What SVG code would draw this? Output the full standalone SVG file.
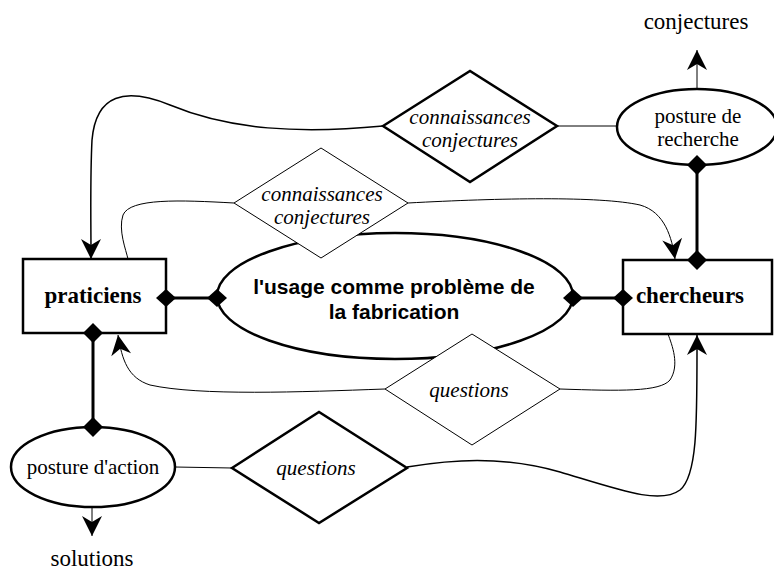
<svg xmlns="http://www.w3.org/2000/svg" xmlns:xlink="http://www.w3.org/1999/xlink" width="774" height="572" viewBox="0 0 774 572">
<style>
.thick{fill:#fff;stroke:#000;stroke-width:2.5}
.thin{fill:#fff;stroke:#000;stroke-width:1}
.serif{font-family:"Liberation Serif","Times New Roman",serif;fill:#000}
.it{font-style:italic;font-size:21px}
.box{font-weight:bold;font-size:23px}
.pl{font-size:21px}
.out{font-size:23px}
.sans{font-family:"Liberation Sans",Arial,sans-serif;font-weight:bold;font-size:21px;fill:#000}
.c1{fill:none;stroke:#000;stroke-width:1}
.c15{fill:none;stroke:#000;stroke-width:1.5}
.c3{fill:none;stroke:#000;stroke-width:3}
.dia{fill:#000;stroke:none}
</style>
<defs>
<marker id="arr" viewBox="-22 -11 24 22" markerWidth="24" markerHeight="22" refX="0" refY="0" orient="auto" markerUnits="userSpaceOnUse">
<path d="M0,0 L-20,-10 L-14,0 L-20,10 Z" fill="#000"/>
</marker>
<path id="dh" d="M-10,0 L0,-9 L10,0 L0,9 Z"/>
<path id="dv" d="M-10,0 L0,-10 L10,0 L0,10 Z"/>
</defs>

<g id="node-usage">
<ellipse class="thick" cx="395" cy="296" rx="178" ry="63"/>
<text class="sans" text-anchor="middle"><tspan x="394" y="294">l'usage comme problème de</tspan><tspan x="394" y="319">la fabrication</tspan></text>
</g>

<g id="node-praticiens">
<rect class="thick" x="23" y="259" width="143" height="74"/>
<text class="serif box" x="93" y="303" text-anchor="middle">praticiens</text>
</g>

<g id="node-chercheurs">
<rect class="thick" x="623" y="260" width="149" height="74"/>
<text class="serif box" x="690" y="303" text-anchor="middle">chercheurs</text>
</g>

<g id="node-posture-recherche">
<ellipse class="thick" cx="697" cy="127" rx="80" ry="38"/>
<text class="serif pl" text-anchor="middle"><tspan x="698" y="123">posture de</tspan><tspan x="698" y="146">recherche</tspan></text>
</g>

<g id="node-posture-action">
<ellipse class="thick" cx="93" cy="467" rx="82" ry="40"/>
<text class="serif pl" x="93" y="474" text-anchor="middle">posture d'action</text>
</g>

<g id="node-conn-top">
<polygon class="thick" points="383,126 470,71 557,126 470,182"/>
<text class="serif it" text-anchor="middle"><tspan x="470" y="124">connaissances</tspan><tspan x="470" y="147">conjectures</tspan></text>
</g>

<g id="node-conn-mid">
<polygon class="thin" points="234,203 321,148 408,203 321,258"/>
<text class="serif it" text-anchor="middle"><tspan x="322" y="201">connaissances</tspan><tspan x="322" y="224">conjectures</tspan></text>
</g>

<g id="node-questions-mid">
<polygon class="thin" points="385,389 472,334 560,389 472,445"/>
<text class="serif it" x="469" y="397" text-anchor="middle">questions</text>
</g>

<g id="node-questions-bottom">
<polygon class="thick" points="232,468 319,412 407,468 319,523"/>
<text class="serif it" x="316" y="475" text-anchor="middle">questions</text>
</g>

<g id="node-conjectures">
<text class="serif out" x="696" y="29" text-anchor="middle">conjectures</text>
</g>

<g id="node-solutions">
<text class="serif out" x="92" y="566" text-anchor="middle">solutions</text>
</g>

<g id="connectors">
<!-- composition links -->
<line class="c3" x1="166" y1="298" x2="217" y2="298"/>
<line class="c3" x1="573" y1="298" x2="623" y2="298"/>
<line class="c3" x1="93" y1="333" x2="93" y2="427"/>
<line class="c3" x1="697" y1="165" x2="697" y2="260"/>
<use href="#dh" class="dia" x="166" y="298"/>
<use href="#dh" class="dia" x="217" y="298"/>
<use href="#dh" class="dia" x="573" y="298"/>
<use href="#dh" class="dia" x="623" y="298"/>
<use href="#dv" class="dia" x="93" y="333"/>
<use href="#dv" class="dia" x="93" y="427"/>
<use href="#dv" class="dia" x="697" y="165"/>
<use href="#dv" class="dia" x="697" y="260"/>
<!-- outputs -->
<line class="c1" x1="697" y1="89" x2="697" y2="50" marker-end="url(#arr)"/>
<line class="c1" x1="92" y1="507" x2="92" y2="536" marker-end="url(#arr)"/>
<!-- plain links -->
<line class="c1" x1="557" y1="126" x2="616" y2="126"/>
<line class="c1" x1="175" y1="467" x2="232" y2="468"/>
<!-- curves -->
<path class="c15" d="M383,126 C300,134 230,130 170,105 C125,87 96,94 92,140 C90,180 91,220 91,259" marker-end="url(#arr)"/>
<path class="c1" d="M234,203 C180,200 130,198 123,215 C118,230 126,250 128,259"/>
<path class="c1" d="M408,203 C500,198 600,196 640,205 C665,212 672,238 675,259" marker-end="url(#arr)"/>
<path class="c1" d="M385,389 C300,392 200,396 150,385 C128,378 122,360 118,335" marker-end="url(#arr)"/>
<path class="c1" d="M560,389 C620,391 660,392 670,380 C680,365 672,345 668,334"/>
<path class="c15" d="M407,467 C450,460 500,455 560,472 C620,490 660,505 680,490 C698,475 697,420 697,335" marker-end="url(#arr)"/>
</g>
</svg>
